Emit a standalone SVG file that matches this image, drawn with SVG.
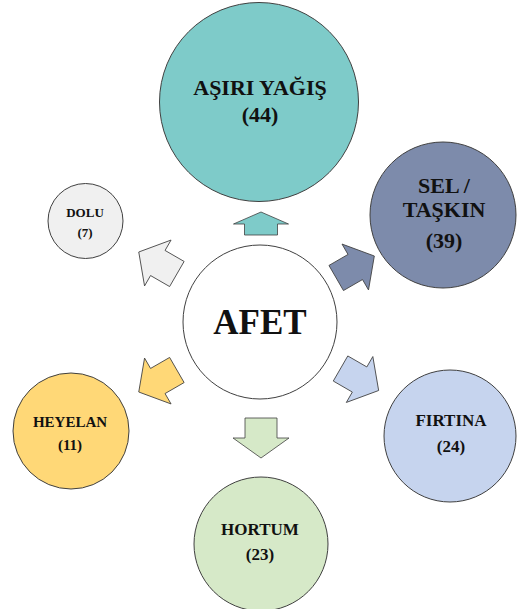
<svg xmlns="http://www.w3.org/2000/svg" width="519" height="609" viewBox="0 0 519 609">
<style>
text{font-family:"Liberation Serif","Times New Roman",serif;font-weight:bold;fill:#111;text-anchor:middle}
.n{stroke:#404040;stroke-width:1}
.a{stroke:#404040;stroke-width:0.8}
</style>
<defs>
<path id="arr" d="M0,-14.5 L22,-14.5 L22,-26.5 L44,0 L22,26.5 L22,14.5 L0,14.5 Z"/>
</defs>
<rect width="519" height="609" fill="#fff"/>
<g id="connectors">
<path class="a" fill="#7ECBC9" d="M244.5,235 L244.5,224 L233.5,224 L261,212 L288.5,224 L277.5,224 L277.5,235 Z"/>
<path class="a" fill="#D6E9C8" d="M245,418 L277,418 L277,438 L289,438 L261,458 L233,438 L245,438 Z"/>
<use href="#arr" class="a" fill="#7D8BAB" transform="translate(260,322) rotate(-30) translate(88,0)"/>
<use href="#arr" class="a" fill="#C6D4EE" transform="translate(260,322) rotate(30) translate(93,0)"/>
<use href="#arr" class="a" fill="#FFD877" transform="translate(260,322) rotate(150) translate(96,0)"/>
<use href="#arr" class="a" fill="#F0F0F0" transform="translate(260,322) rotate(210) translate(96,0)"/>
</g>
<g id="afet">
<circle class="n" cx="260" cy="322" r="77" fill="#fff" stroke="#606060"/>
<text x="260" y="334" font-size="35">AFET</text>
</g>
<g id="asiri-yagis">
<circle class="n" cx="259" cy="102" r="99.5" fill="#7ECBC9"/>
<text x="260" y="95" font-size="22">AŞIRI YAĞIŞ</text>
<text x="260" y="122" font-size="22">(44)</text>
</g>
<g id="sel-taskin">
<circle class="n" cx="443" cy="215" r="73" fill="#7D8BAB"/>
<text x="444" y="193" font-size="22">SEL /</text>
<text x="444" y="217" font-size="22">TAŞKIN</text>
<text x="444" y="248" font-size="22">(39)</text>
</g>
<g id="firtina">
<circle class="n" cx="450" cy="436" r="66" fill="#C6D4EE"/>
<text x="451" y="426" font-size="17">FIRTINA</text>
<text x="451" y="452" font-size="17">(24)</text>
</g>
<g id="hortum">
<circle class="n" cx="261" cy="544" r="67" fill="#D6E9C8"/>
<text x="260" y="535" font-size="17">HORTUM</text>
<text x="260" y="560" font-size="17">(23)</text>
</g>
<g id="heyelan">
<circle class="n" cx="71" cy="431" r="58" fill="#FFD877"/>
<text x="70" y="427" font-size="15">HEYELAN</text>
<text x="70" y="450" font-size="15">(11)</text>
</g>
<g id="dolu">
<circle class="n" cx="85.5" cy="221" r="37.5" fill="#F0F0F0"/>
<text x="85" y="217" font-size="13">DOLU</text>
<text x="85" y="237" font-size="13">(7)</text>
</g>
</svg>
